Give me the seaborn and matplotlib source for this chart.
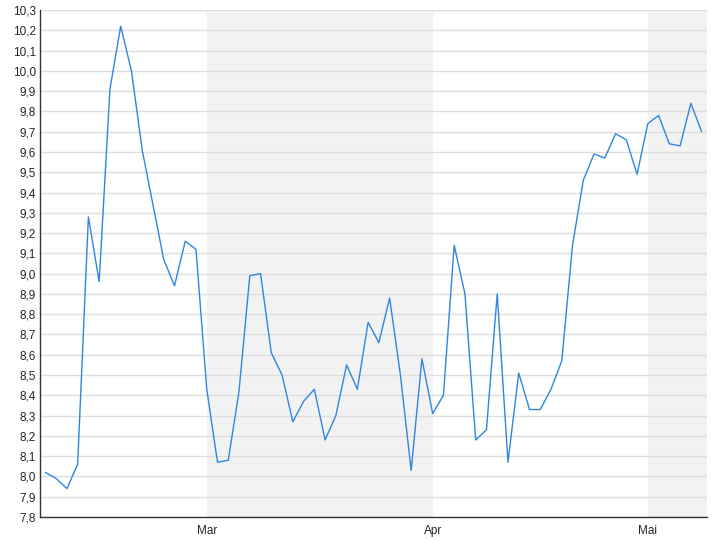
import matplotlib
matplotlib.use("Agg")
import matplotlib.pyplot as plt
from matplotlib.ticker import FuncFormatter, MultipleLocator
import seaborn as sb
import pandas as pd
import numpy as np

# closing prices, one per trading day
prices = [8.02, 7.99, 7.94, 8.06, 9.28, 8.96, 9.91, 10.22, 10.00, 9.61,
          9.34, 9.07, 8.94, 9.16, 9.12, 8.43, 8.07, 8.08, 8.42, 8.99,
          9.00, 8.61, 8.50, 8.27, 8.37, 8.43, 8.18, 8.30, 8.55, 8.43,
          8.76, 8.66, 8.88, 8.50, 8.03, 8.58, 8.31, 8.40, 9.14, 8.90,
          8.18, 8.23, 8.90, 8.07, 8.51, 8.33, 8.33, 8.43, 8.57, 9.14,
          9.46, 9.59, 9.57, 9.69, 9.66, 9.49, 9.74, 9.78, 9.64, 9.63,
          9.84, 9.70]
month_labels = ['Mar', 'Apr', 'Mai']
month_start = [15, 36, 56]   # index of first trading day of each month

df = pd.DataFrame({'day': range(len(prices)), 'price': prices})

sb.set_style("white")
plt.rcParams['font.family'] = ['Liberation Sans', 'DejaVu Sans']

fig = plt.figure(figsize=(7.2, 5.4), dpi=100)
ax = fig.add_axes([40/720, 23/540, 667/720, 507/540])

x_lo, x_hi = -0.5, len(prices) - 0.5
# shade every other month
ax.axvspan(month_start[0], month_start[1], color='#f2f2f2', lw=0, zorder=0)
ax.axvspan(month_start[2], x_hi, color='#f2f2f2', lw=0, zorder=0)

sb.lineplot(data=df, x='day', y='price', ax=ax, color='#2f86e0', lw=1, zorder=3)

ax.set_xlim(x_lo, x_hi)
ax.set_ylim(7.8, 10.3)
ax.yaxis.set_major_locator(MultipleLocator(0.1))
ax.yaxis.set_major_formatter(FuncFormatter(lambda v, p: f"{v:.1f}".replace('.', ',')))
ax.grid(axis='y', color='#dedede', lw=1, zorder=1)
ax.set_axisbelow(True)

ax.set_xticks(month_start)
ax.set_xticklabels(month_labels)
ax.tick_params(axis='x', length=4, width=1, color='#333333', labelsize=8.5, pad=2)
ax.tick_params(axis='y', length=0, labelsize=8.5, pad=3)
ax.set_xlabel('')
ax.set_ylabel('')

for s in ['top', 'right']:
    ax.spines[s].set_visible(False)
for s in ['left', 'bottom']:
    ax.spines[s].set_color('#333333')
    ax.spines[s].set_linewidth(1)

plt.savefig('out.png', dpi=100)
